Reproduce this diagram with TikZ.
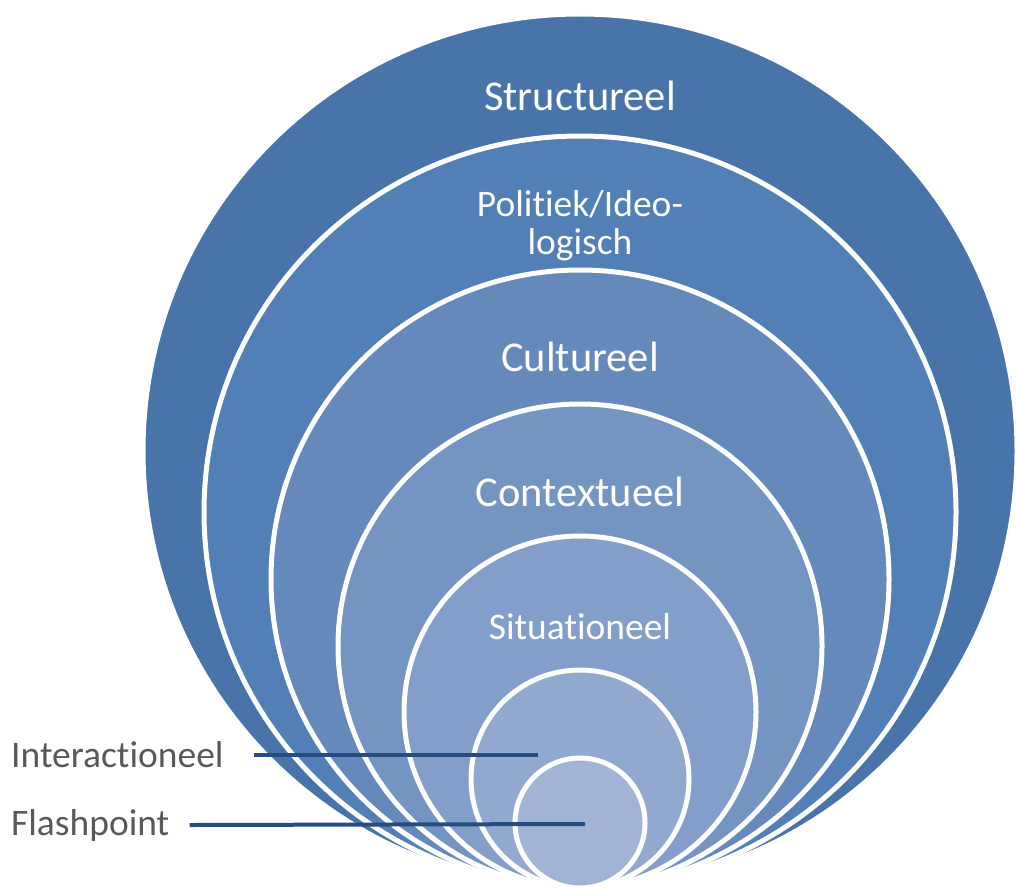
\documentclass[tikz,border=0pt]{standalone}
\usepackage{fontspec}
\setmainfont[Ligatures=NoCommon]{Carlito}
\usetikzlibrary{positioning}

\definecolor{ringA}{RGB}{72,116,170}
\definecolor{ringB}{RGB}{82,127,181}
\definecolor{ringC}{RGB}{102,137,188}
\definecolor{ringD}{RGB}{116,148,194}
\definecolor{ringE}{RGB}{131,158,200}
\definecolor{ringF}{RGB}{145,169,206}
\definecolor{ringG}{RGB}{162,180,213}
\definecolor{labelgray}{RGB}{89,89,89}
\definecolor{pointerblue}{RGB}{38,76,128}

\tikzset{
  ringtext/.style={text=white, inner sep=0pt, font=\fontsize{42.5}{50}\selectfont},
  ringsmall/.style={text=white, inner sep=0pt, align=center, font=\fontsize{37.5}{38}\selectfont},
  sidelabel/.style={text=labelgray, inner sep=0pt, anchor=west, font=\fontsize{37.5}{44}\selectfont},
  pointer/.style={draw=pointerblue, line width=4pt}
}

\begin{document}
\begin{tikzpicture}[x=1pt,y=-1pt]
  \useasboundingbox (0,0) rectangle (1016,888);

  % rings, all touching at the bottom
  \foreach \r/\col in {437/ringA,376/ringB,309/ringC,242/ringD,176/ringE,109/ringF,65/ringG}{
    \filldraw[fill=\col, draw=white, line width=5pt] (580,888-\r) circle [radius=\r];
  }

  \node[ringtext] (structureel) at (580,96) {Structureel};
  \node[ringsmall] (politiek) at (580,226) {Politiek/Ideo-\\logisch};
  \node[ringtext] (cultureel) at (580,357) {Cultureel};
  \node[ringtext] (contextueel) at (580,492) {Contextueel};
  \node[ringsmall] (situationeel) at (580,627) {Situationeel};

  \node[sidelabel] (interactioneel) at (11,755) {Interactioneel};
  \node[sidelabel] (flashpoint) at (11,825) {Flashpoint};

  \coordinate (interactioneel end) at (538,755);
  \coordinate (flashpoint end) at (585,824);

  \draw[pointer] ([xshift=30pt]interactioneel.east) -- (interactioneel end);
  \draw[pointer] ([xshift=20pt]flashpoint.east) -- (flashpoint end);
\end{tikzpicture}
\end{document}
